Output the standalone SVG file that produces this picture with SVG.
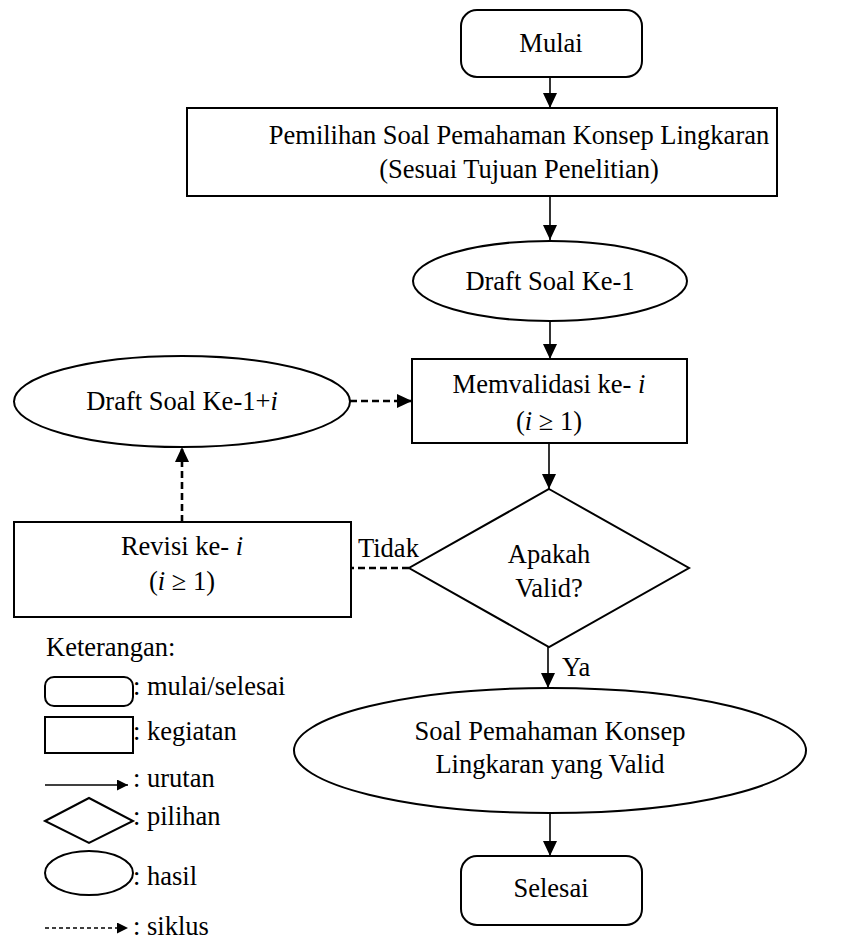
<svg xmlns="http://www.w3.org/2000/svg" width="843" height="941" viewBox="0 0 843 941">
  <style>
    .shape { fill: #ffffff; stroke: #000000; stroke-width: 2; }
    .txt { font-family: 'Liberation Serif', 'DejaVu Serif', serif; font-size: 26.5px; fill: #000000; }
    .mid { text-anchor: middle; }
    .it { font-style: italic; }
    .flow { fill: none; stroke: #000000; stroke-width: 1.6; }
    .cycle { fill: none; stroke: #000000; stroke-width: 2.6; stroke-dasharray: 7 4; }
    .key-flow { fill: none; stroke: #000000; stroke-width: 1.3; }
    .key-cycle { fill: none; stroke: #000000; stroke-width: 1.3; stroke-dasharray: 4 3; }
  </style>
  <defs>
    <marker id="head" viewBox="0 0 15 14" refX="15" refY="7" markerWidth="15" markerHeight="14" markerUnits="userSpaceOnUse" orient="auto">
      <path d="M0,0 L15,7 L0,14 z" fill="#000000"/>
    </marker>
    <marker id="head-sm" viewBox="0 0 11 11" refX="11" refY="5.5" markerWidth="11" markerHeight="11" markerUnits="userSpaceOnUse" orient="auto">
      <path d="M0,0 L11,5.5 L0,11 z" fill="#000000"/>
    </marker>
  </defs>

  <rect width="843" height="941" fill="#ffffff"/>

  <!-- connectors -->
  <g id="connectors">
    <path class="flow" d="M550,77 V108" marker-end="url(#head)"/>
    <path class="flow" d="M550,196 V240" marker-end="url(#head)"/>
    <path class="flow" d="M550,320 V359" marker-end="url(#head)"/>
    <path class="flow" d="M549,443 V489" marker-end="url(#head)"/>
    <path class="flow" d="M548,647 V688" marker-end="url(#head)"/>
    <path class="flow" d="M550,813 V856" marker-end="url(#head)"/>
    <path class="cycle" d="M350,401 H412" marker-end="url(#head)"/>
    <path class="cycle" d="M182,522 V447" marker-end="url(#head)"/>
    <path class="cycle" d="M409,568 H351"/>
    <text class="txt" x="358" y="557">Tidak</text>
    <text class="txt" x="562" y="676">Ya</text>
  </g>

  <g id="mulai">
    <rect class="shape" x="461" y="10" width="181" height="67" rx="16"/>
    <text class="txt mid" x="551" y="52">Mulai</text>
  </g>

  <g id="pemilihan">
    <rect class="shape" x="187" y="108" width="590" height="88"/>
    <text class="txt mid" x="519" y="144">Pemilihan Soal Pemahaman Konsep Lingkaran</text>
    <text class="txt mid" x="519" y="178">(Sesuai Tujuan Penelitian)</text>
  </g>

  <g id="draft-1">
    <ellipse class="shape" cx="550" cy="281" rx="137" ry="40"/>
    <text class="txt mid" x="550" y="290">Draft Soal Ke-1</text>
  </g>

  <g id="memvalidasi">
    <rect class="shape" x="412" y="359" width="275" height="84"/>
    <text class="txt mid" x="549" y="393">Memvalidasi ke- <tspan class="it">i</tspan></text>
    <text class="txt mid" x="549" y="430">(<tspan class="it">i</tspan> ≥ 1)</text>
  </g>

  <g id="draft-i">
    <ellipse class="shape" cx="182" cy="401.5" rx="168" ry="45.5"/>
    <text class="txt mid" x="182" y="410">Draft Soal Ke-1+<tspan class="it">i</tspan></text>
  </g>

  <g id="apakah-valid">
    <polygon class="shape" points="549,489 689,568 549,647 409,568"/>
    <text class="txt mid" x="549" y="563">Apakah</text>
    <text class="txt mid" x="549" y="597">Valid?</text>
  </g>

  <g id="revisi">
    <rect class="shape" x="14" y="522" width="337" height="95"/>
    <text class="txt mid" x="182" y="555">Revisi ke- <tspan class="it">i</tspan></text>
    <text class="txt mid" x="182" y="590">(<tspan class="it">i</tspan> ≥ 1)</text>
  </g>

  <g id="soal-valid">
    <ellipse class="shape" cx="550" cy="750.5" rx="256" ry="62.5"/>
    <text class="txt mid" x="550" y="740">Soal Pemahaman Konsep</text>
    <text class="txt mid" x="550" y="773">Lingkaran yang Valid</text>
  </g>

  <g id="selesai">
    <rect class="shape" x="461" y="856" width="181" height="69" rx="16"/>
    <text class="txt mid" x="551" y="897">Selesai</text>
  </g>

  <!-- key -->
  <g id="keterangan">
    <text class="txt" x="46" y="656">Keterangan:</text>
    <rect class="shape" x="45" y="677" width="88" height="29" rx="9"/>
    <text class="txt" x="133" y="695">: mulai/selesai</text>
    <rect class="shape" x="45" y="717" width="88" height="36"/>
    <text class="txt" x="133" y="740">: kegiatan</text>
    <path class="key-flow" d="M45,785 H128" marker-end="url(#head-sm)"/>
    <text class="txt" x="133" y="787">: urutan</text>
    <polygon class="shape" points="45,821 89,798 133,821 89,843"/>
    <text class="txt" x="133" y="825">: pilihan</text>
    <ellipse class="shape" cx="89" cy="873" rx="44" ry="22"/>
    <text class="txt" x="133" y="885">: hasil</text>
    <path class="key-cycle" d="M45,928 H128" marker-end="url(#head-sm)"/>
    <text class="txt" x="133" y="935">: siklus</text>
  </g>
</svg>
